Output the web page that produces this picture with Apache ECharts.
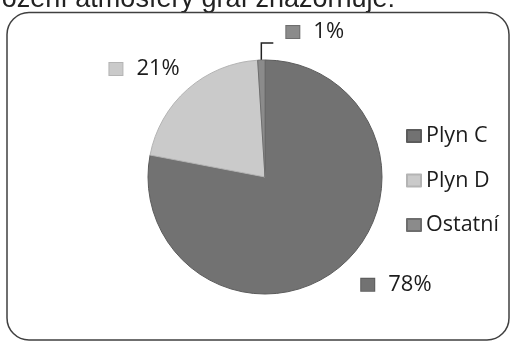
<!DOCTYPE html>
<html>
<head>
<meta charset="utf-8">
<script src="https://cdn.jsdelivr.net/npm/echarts@6/dist/echarts.min.js"></script>
<style>
  html, body { margin: 0; padding: 0; background: #ffffff; }
  #chart { width: 511px; height: 342px; }
</style>
</head>
<body>
<div id="chart"></div>
<script>
// Gas shares of the atmosphere (percent)
const categories = ['Plyn C', 'Plyn D', 'Ostatní'];
const shares = [78, 21, 1];
const sliceColors = ['#727272', '#cacaca', '#8b8b8b'];
const edgeColors = ['#5c5c5c', '#b4b4b4', '#6e6e6e'];
const captionText = 'složení atmosféry graf znázorňuje:';

const FONT = '"Open Sans", "Noto Sans", sans-serif';
const TEXT = '#1c1c1c';

// one rich-text colour key per slice so each label carries its own key square
const rich = { g: { width: 14 }, v: { fontSize: 22, fontFamily: FONT, color: TEXT } };
sliceColors.forEach((c, i) => {
  rich['m' + i] = { width: 13, height: 12, backgroundColor: c, borderColor: edgeColors[i], borderWidth: 1 };
});

const labelLen = [
  { length: 23, length2: 2, show: false },
  { length: 27, length2: 0, show: false },
  { length: 10, length2: 10, show: true }
];

const chart = echarts.init(document.getElementById('chart'), null, { renderer: 'canvas' });

chart.setOption({
  animation: false,
  backgroundColor: '#ffffff',
  graphic: [
    {
      type: 'text',
      style: {
        text: captionText,
        x: 395, y: 0,
        align: 'right', verticalAlign: 'middle',
        font: '27px "Liberation Sans", Arial, sans-serif',
        fill: '#222222'
      }
    },
    {
      type: 'rect',
      shape: { x: 7, y: 12.5, width: 502, height: 327.5, r: 22 },
      style: { fill: 'none', stroke: '#404040', lineWidth: 1.5 }
    }
  ],
  legend: {
    orient: 'vertical',
    left: 401,
    top: 120,
    icon: 'rect',
    itemWidth: 14,
    itemHeight: 12,
    itemGap: 22.5,
    textStyle: { fontSize: 21.5, fontFamily: FONT, color: TEXT },
    data: categories
  },
  series: [{
    type: 'pie',
    center: [265, 177],
    radius: 117,
    startAngle: 90,
    clockwise: true,
    avoidLabelOverlap: false,
    label: {
      show: true,
      position: 'outside',
      rich: rich,
      formatter: p => '{m' + p.dataIndex + '|}{g|}{v|' + p.value + '%}'
    },
    labelLine: { lineStyle: { color: '#222222', width: 1.5 }, smooth: false },
    labelLayout: function (params) {
      if (params.dataIndex === 1) {
        return { dx: 15 };
      }
      if (params.dataIndex === 2 && params.labelLinePoints) {
        const p0 = params.labelLinePoints[0];
        const up = [p0[0], p0[1] - 17];
        const end = [p0[0] + 12, p0[1] - 17];
        return {
          x: end[0] + 13,
          y: end[1] - 11,
          align: 'left',
          verticalAlign: 'middle',
          labelLinePoints: [p0, up, end]
        };
      }
      return {};
    },
    data: categories.map((name, i) => ({
      name: name,
      value: shares[i],
      itemStyle: { color: sliceColors[i], borderColor: edgeColors[i], borderWidth: 1 },
      labelLine: labelLen[i]
    }))
  }]
});
</script>
</body>
</html>
